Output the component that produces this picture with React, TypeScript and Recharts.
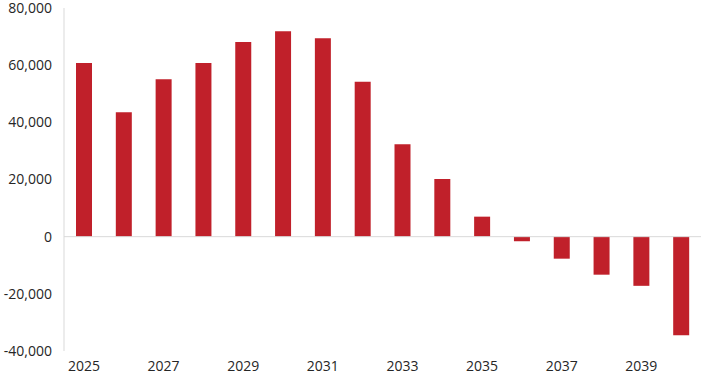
import React from "react";
import { BarChart, Bar, XAxis, YAxis, ReferenceLine } from "recharts";

const years = ["2025","2026","2027","2028","2029","2030","2031","2032","2033","2034","2035","2036","2037","2038","2039","2040"];
const values = [60800, 43500, 55100, 60800, 68100, 71900, 69400, 54200, 32300, 20200, 7000, -1600, -7700, -13300, -17200, -34500];
const yTicks = [-40000, -20000, 0, 20000, 40000, 60000, 80000];
const xTicks = ["2025","2027","2029","2031","2033","2035","2037","2039"];

const data = years.map((y, i) => ({ year: y, value: values[i] }));

const fmt = (v: number) => v.toLocaleString("en-US");

export default function App() {
  const font = { fontFamily: "'Open Sans', sans-serif", fontSize: 14, fill: "#262626" };
  return (
    <div style={{ position: "absolute", left: 0, top: 0, background: "#fff" }}>
      <BarChart width={703} height={375} data={data} margin={{ top: 8, right: 2, left: 0, bottom: 0 }} barCategoryGap={0}>
        <XAxis
          dataKey="year"
          ticks={xTicks}
          interval={0}
          axisLine={false}
          tickLine={false}
          tickSize={0}
          tickMargin={10}
          height={24}
          tick={font}
        />
        <YAxis
          domain={[-40000, 80000]}
          ticks={yTicks}
          tickFormatter={fmt}
          axisLine={{ stroke: "#d9d9d9" }}
          tickLine={false}
          tickSize={0}
          tickMargin={12}
          width={64}
          tick={font}
          interval={0}
        />
        <ReferenceLine y={0} stroke="#d9d9d9" strokeWidth={1} />
        <Bar dataKey="value" fill="#C0202A" barSize={16} isAnimationActive={false} />
      </BarChart>
    </div>
  );
}
